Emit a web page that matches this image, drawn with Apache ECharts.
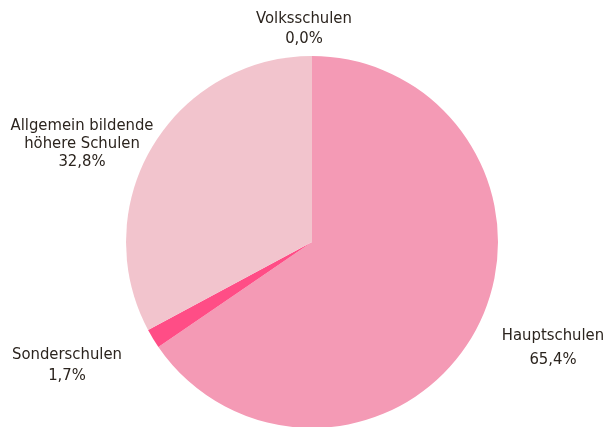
<!DOCTYPE html>
<html>
<head>
<meta charset="utf-8">
<script src="https://cdn.jsdelivr.net/npm/echarts@6/dist/echarts.min.js"></script>
<style>
html,body{margin:0;padding:0;background:#fff;}
#chart{width:608px;height:427px;}
</style>
</head>
<body>
<div id="chart"></div>
<script>
var categories = ['Volksschulen', 'Hauptschulen', 'Sonderschulen', 'Allgemein bildende\nhöhere Schulen'];
var shares = [0.0, 65.4, 1.7, 32.8];
var colors = ['#F49AB5', '#F49AB5', '#FF4D86', '#F2C4CD'];
var labelPos = [[304, 29], [553, 348], [67, 365], [82, 144]];
var labelLineHeights = [20, 24, 21, 18];

var chart = echarts.init(document.getElementById('chart'), null, {renderer: 'canvas'});
chart.setOption({
  animation: false,
  series: [{
    type: 'pie',
    center: [312, 242],
    radius: 186,
    startAngle: 90,
    clockwise: true,
    avoidLabelOverlap: false,
    minAngle: 0,
    emphasis: {disabled: true},
    labelLine: {show: false},
    label: {
      show: true,
      position: 'outside',
      color: '#2b241e',
      fontFamily: '"DejaVu Sans Condensed", sans-serif',
      fontSize: 16.5,
      lineHeight: 19,
      align: 'center',
      formatter: function (p) {
        return p.name + '\n' + p.value.toFixed(1).replace('.', ',') + '%';
      }
    },
    labelLayout: function (p) {
      var pos = labelPos[p.dataIndex];
      return {x: pos[0], y: pos[1], align: 'center', verticalAlign: 'middle'};
    },
    data: categories.map(function (c, i) {
      return {
        name: c,
        value: shares[i],
        itemStyle: {color: colors[i]},
        label: {lineHeight: labelLineHeights[i]}
      };
    })
  }]
});
</script>
</body>
</html>
